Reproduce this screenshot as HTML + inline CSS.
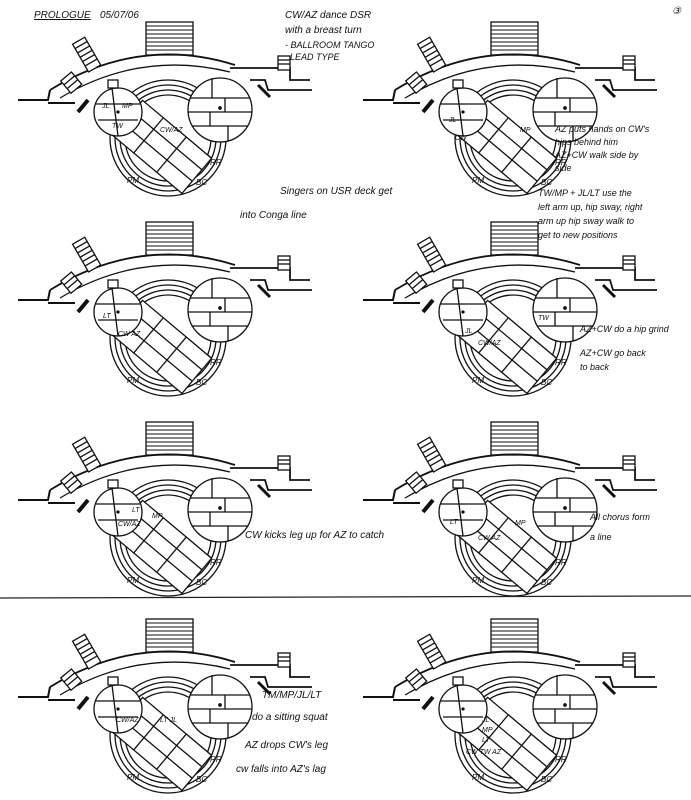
<!DOCTYPE html>
<html><head><meta charset="utf-8"><style>
html,body{margin:0;padding:0;background:#fff;}
svg{display:block;}
text{font-family:"Liberation Sans",sans-serif;font-style:italic;fill:#111;}
</style></head><body>
<svg width="691" height="800" viewBox="0 0 691 800" xmlns="http://www.w3.org/2000/svg">
<defs>
<g id="stage" fill="none" stroke="#111" stroke-width="1.3">
  <rect x="146" y="22" width="47" height="33" fill="#fff"/>
  <g stroke-width="1">
    <line x1="146" y1="26" x2="193" y2="26"/><line x1="146" y1="30" x2="193" y2="30"/>
    <line x1="146" y1="34" x2="193" y2="34"/><line x1="146" y1="38" x2="193" y2="38"/>
    <line x1="146" y1="42" x2="193" y2="42"/><line x1="146" y1="46" x2="193" y2="46"/>
    <line x1="146" y1="50" x2="193" y2="50"/>
  </g>
  <path d="M50 90 Q140 35 235 65" stroke-width="1.8"/>
  <path d="M60 98 Q140 50 230 72"/>
  <path d="M18 100 L48 100 L50 90" stroke-width="2"/>
  <path d="M48 103 L75 103" stroke-width="2"/>
  <g transform="rotate(-30 88 55)"><rect x="80" y="38" width="14" height="32" fill="#fff"/>
   <line x1="80" y1="43" x2="94" y2="43"/><line x1="80" y1="48" x2="94" y2="48"/><line x1="80" y1="53" x2="94" y2="53"/><line x1="80" y1="58" x2="94" y2="58"/><line x1="80" y1="63" x2="94" y2="63"/></g>
  <g transform="rotate(-40 72 82)"><rect x="64" y="74" width="14" height="16" fill="#fff"/>
   <line x1="64" y1="79" x2="78" y2="79"/><line x1="64" y1="84" x2="78" y2="84"/></g>
  <line x1="78" y1="112" x2="88" y2="100" stroke-width="4"/>
  <path d="M230 68 L290 68 L290 80 L310 80" stroke-width="1.8"/>
  <path d="M250 80 L265 80 L268 90 L312 90" stroke-width="1.8"/>
  <rect x="278" y="56" width="12" height="14" fill="#fff"/>
  <line x1="278" y1="60" x2="290" y2="60"/><line x1="278" y1="64" x2="290" y2="64"/>
  <line x1="258" y1="85" x2="270" y2="97" stroke-width="3"/>
  <circle cx="168" cy="138" r="58"/><circle cx="168" cy="138" r="53"/>
  <circle cx="168" cy="138" r="48"/><circle cx="168" cy="138" r="43"/>
  <g transform="rotate(40 160 145)">
    <rect x="118" y="122" width="90" height="46" fill="#fff"/>
    <line x1="118" y1="137" x2="208" y2="137"/><line x1="118" y1="152" x2="208" y2="152"/>
    <line x1="145" y1="122" x2="145" y2="168"/><line x1="175" y1="122" x2="175" y2="168"/>
  </g>
  <circle cx="118" cy="112" r="24" fill="#fff"/>
  <line x1="112" y1="88" x2="118" y2="136"/><line x1="96" y1="104" x2="140" y2="104"/>
  <line x1="98" y1="120" x2="138" y2="120"/>
  <rect x="108" y="80" width="10" height="8" fill="#fff"/>
  <circle cx="118" cy="112" r="1" fill="#111"/>
  <circle cx="220" cy="110" r="32" fill="#fff"/>
  <line x1="190" y1="98" x2="250" y2="98"/><line x1="188" y1="112" x2="252" y2="112"/>
  <line x1="192" y1="126" x2="248" y2="126"/><line x1="212" y1="78" x2="212" y2="98"/>
  <line x1="225" y1="98" x2="225" y2="112"/><line x1="210" y1="112" x2="210" y2="126"/>
  <line x1="228" y1="126" x2="228" y2="141"/>
  <circle cx="220" cy="108" r="1.2" fill="#111"/>
  <g stroke="none" fill="#111" font-size="8">
    <text x="127" y="183">PM</text><text x="210" y="165">RR</text><text x="196" y="185">BC</text>
  </g>
</g>
</defs>
<rect width="691" height="800" fill="#fff"/>
<use href="#stage" x="0" y="0"/>
<use href="#stage" x="345" y="0"/>
<use href="#stage" x="0" y="200"/>
<use href="#stage" x="345" y="200"/>
<use href="#stage" x="0" y="400"/>
<use href="#stage" x="345" y="400"/>
<use href="#stage" x="0" y="597"/>
<use href="#stage" x="345" y="597"/>
<line x1="0" y1="598" x2="691" y2="596" stroke="#222" stroke-width="1.2"/>
<g font-size="7">
<text x="102" y="108">JL</text><text x="122" y="108">MP</text><text x="112" y="128">TW</text><text x="160" y="132">CW/AZ</text>
<text x="449" y="122">JL</text><text x="520" y="132">MP</text><text x="455" y="140">CW</text>
<text x="103" y="318">LT</text><text x="118" y="336">CW AZ</text>
<text x="465" y="333">JL</text><text x="538" y="320">TW</text><text x="478" y="345">CW/AZ</text>
<text x="132" y="512">LT</text><text x="152" y="518">MP</text><text x="118" y="526">CW/AZ</text>
<text x="450" y="524">LT</text><text x="515" y="525">MP</text><text x="478" y="540">CW AZ</text>
<text x="116" y="722">CW/AZ</text><text x="160" y="722">LT JL</text>
<text x="482" y="722">JL</text><text x="482" y="732">MP</text><text x="482" y="742">LT</text><text x="466" y="754">CW TW AZ</text>
</g>
<g font-size="10">
<text x="34" y="18" text-decoration="underline">PROLOGUE</text><text x="100" y="18">05/07/06</text>
<text x="285" y="18">CW/AZ dance DSR</text>
<text x="285" y="33">with a breast turn</text>
<text x="285" y="48" font-size="9">- BALLROOM TANGO</text>
<text x="290" y="60" font-size="9">LEAD TYPE</text>
<text x="672" y="14">③</text>
<text x="555" y="132" font-size="9">AZ puts hands on CW's</text>
<text x="555" y="145" font-size="9">hips behind him</text>
<text x="555" y="158" font-size="9">AZ+CW walk side by</text>
<text x="555" y="171" font-size="9">side</text>
<text x="280" y="194">Singers on USR deck get</text>
<text x="240" y="218">into Conga line</text>
<text x="538" y="196" font-size="9">TW/MP + JL/LT use the</text>
<text x="538" y="210" font-size="9">left arm up, hip sway, right</text>
<text x="538" y="224" font-size="9">arm up hip sway walk to</text>
<text x="538" y="238" font-size="9">get to new positions</text>
<text x="580" y="332" font-size="9">AZ+CW do a hip grind</text>
<text x="580" y="356" font-size="9">AZ+CW go back</text>
<text x="580" y="370" font-size="9">to back</text>
<text x="245" y="538">CW kicks leg up for AZ to catch</text>
<text x="590" y="520" font-size="9">All chorus form</text>
<text x="590" y="540" font-size="9">a line</text>
<text x="262" y="698">TM/MP/JL/LT</text>
<text x="252" y="720">do a sitting squat</text>
<text x="245" y="748">AZ drops CW's leg</text>
<text x="236" y="772">cw falls into AZ's lag</text>
</g>
</svg>
</body></html>
